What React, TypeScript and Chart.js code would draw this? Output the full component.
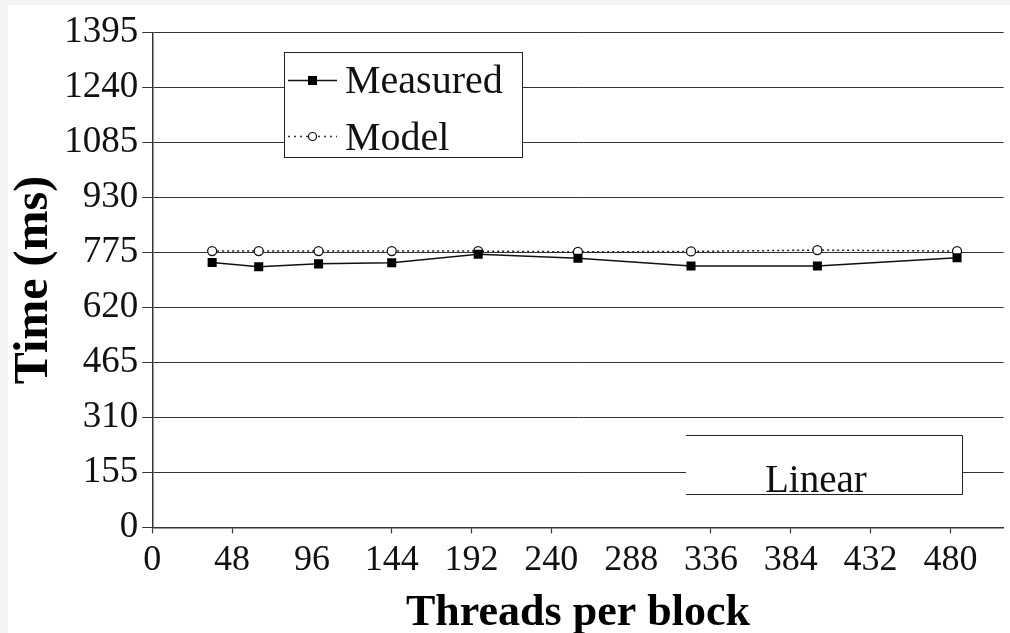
import React, { useEffect, useRef } from 'react';
import { Chart, registerables } from 'chart.js';

Chart.register(...registerables);

// ---- data ----
const threadsPerBlock = [36, 64, 100, 144, 196, 256, 324, 400, 484];
const measuredMs = [747, 735, 743, 746, 770, 759, 737, 737, 760];
const modelMs = [779, 779, 779, 779, 779, 777, 778, 782, 779];
const yTickValues = [0, 155, 310, 465, 620, 775, 930, 1085, 1240, 1395];
const xTickValues = [0, 48, 96, 144, 192, 240, 288, 336, 384, 432, 480];
const xTicksWithoutMark = [96, 288];
const seriesLabels = ['Measured', 'Model'];
const xTitle = 'Threads per block';
const yTitle = 'Time (ms)';
const boxLabel = 'Linear';

const SERIF = '"Liberation Serif", "Times New Roman", serif';

const overlayPlugin = {
  id: 'overlay',
  afterDraw(chart: any) {
    const ctx = chart.ctx;
    ctx.save();
    // legend box
    ctx.fillStyle = '#ffffff';
    ctx.fillRect(276, 47, 238, 105);
    ctx.strokeStyle = '#222';
    ctx.lineWidth = 1;
    ctx.strokeRect(276.5, 47.5, 238, 105);

    const ds = chart.data.datasets;
    // Measured sample
    ctx.setLineDash([]);
    ctx.strokeStyle = '#111';
    ctx.lineWidth = 1.5;
    ctx.beginPath();
    ctx.moveTo(280, 75.5);
    ctx.lineTo(329, 75.5);
    ctx.stroke();
    ctx.fillStyle = '#000';
    ctx.fillRect(300, 71, 9, 9);
    // Model sample
    ctx.setLineDash([2, 4]);
    ctx.strokeStyle = '#333';
    ctx.lineWidth = 1.4;
    ctx.beginPath();
    ctx.moveTo(280, 131.5);
    ctx.lineTo(329, 131.5);
    ctx.stroke();
    ctx.setLineDash([]);
    ctx.beginPath();
    ctx.arc(304.5, 131.5, 4, 0, Math.PI * 2);
    ctx.fillStyle = '#fff';
    ctx.fill();
    ctx.strokeStyle = '#111';
    ctx.lineWidth = 1.2;
    ctx.stroke();

    ctx.fillStyle = '#111';
    ctx.font = '40px ' + SERIF;
    ctx.textBaseline = 'alphabetic';
    ctx.textAlign = 'left';
    ctx.fillText(ds[0].label, 337, 88);
    ctx.fillText(ds[1].label, 337, 145);

    // "Linear" box
    ctx.fillStyle = '#ffffff';
    ctx.fillRect(678, 430, 277, 60);
    ctx.strokeStyle = '#222';
    ctx.lineWidth = 1;
    ctx.beginPath();
    ctx.moveTo(678, 430.5);
    ctx.lineTo(954.5, 430.5);
    ctx.lineTo(954.5, 489.5);
    ctx.lineTo(678, 489.5);
    ctx.stroke();
    ctx.fillStyle = '#111';
    ctx.font = '39px ' + SERIF;
    ctx.fillText(boxLabel, 757, 486.5);
    ctx.restore();
  },
};

export default function App() {
  const canvasRef = useRef<HTMLCanvasElement | null>(null);

  useEffect(() => {
    document.body.style.margin = '0';
    document.body.style.background = '#f3f3f3';
    const canvas = canvasRef.current;
    if (!canvas) return;
    const chart = new Chart(canvas, {
      type: 'line',
      data: {
        datasets: [
          {
            label: seriesLabels[0],
            data: threadsPerBlock.map((x, i) => ({ x, y: measuredMs[i] })),
            borderColor: '#111',
            borderWidth: 1.5,
            pointStyle: 'rect',
            pointRadius: 6.4,
            pointBackgroundColor: '#000',
            pointBorderColor: '#000',
            pointBorderWidth: 0,
            tension: 0,
          },
          {
            label: seriesLabels[1],
            data: threadsPerBlock.map((x, i) => ({ x, y: modelMs[i] })),
            borderColor: '#222',
            borderWidth: 1.5,
            borderDash: [2, 3],
            pointStyle: 'circle',
            pointRadius: 4.5,
            pointBackgroundColor: '#fff',
            pointBorderColor: '#111',
            pointBorderWidth: 1.3,
            tension: 0,
          },
        ],
      },
      options: {
        responsive: false,
        animation: false,
        events: [],
        layout: { padding: { top: 27.7, right: 2, bottom: 0, left: 0 } },
        plugins: {
          legend: { display: false },
          tooltip: { enabled: false },
        },
        scales: {
          x: {
            type: 'linear',
            min: 0,
            max: 512,
            afterFit: (scale: any) => {
              scale.height = 105.7;
            },
            afterBuildTicks: (axis: any) => {
              axis.ticks = xTickValues.map((v) => ({ value: v }));
            },
            ticks: {
              autoSkip: false,
              maxRotation: 0,
              includeBounds: false,
              padding: 6,
              color: '#111',
              font: { family: SERIF, size: 36 },
              callback: (v: any) => String(v),
            },
            grid: {
              drawOnChartArea: false,
              drawTicks: true,
              tickLength: 6,
              tickWidth: 1.2,
              tickColor: (c: any) =>
                c.tick && xTicksWithoutMark.includes(c.tick.value) ? 'rgba(0,0,0,0)' : '#333',
            },
            border: { display: true, color: '#333', width: 1.5 },
            title: {
              display: true,
              text: xTitle,
              color: '#000',
              font: { family: SERIF, size: 44, weight: 'bold', lineHeight: 0.86 },
              padding: 0,
            },
          },
          y: {
            type: 'linear',
            min: 0,
            max: 1395,
            afterFit: (scale: any) => {
              scale.width = 144.3;
            },
            afterBuildTicks: (axis: any) => {
              axis.ticks = yTickValues.map((v) => ({ value: v }));
            },
            ticks: {
              autoSkip: false,
              padding: 4,
              color: '#111',
              font: { family: SERIF, size: 37 },
              callback: (v: any) => String(v),
            },
            grid: {
              display: true,
              color: '#333',
              lineWidth: 1,
              drawTicks: true,
              tickLength: 10,
              tickColor: '#333',
            },
            border: { display: true, color: '#333', width: 1.5 },
            title: {
              display: true,
              text: yTitle,
              color: '#000',
              font: { family: SERIF, size: 48, weight: 'bold', lineHeight: 1 },
              padding: 3,
            },
          },
        },
      },
      plugins: [overlayPlugin],
    } as any);
    return () => chart.destroy();
  }, []);

  return (
    <div
      style={{
        position: 'absolute',
        left: 8,
        top: 5,
        width: 1002,
        height: 628,
        background: '#ffffff',
      }}
    >
      <canvas ref={canvasRef} width={1002} height={628} style={{ display: 'block' }} />
    </div>
  );
}
